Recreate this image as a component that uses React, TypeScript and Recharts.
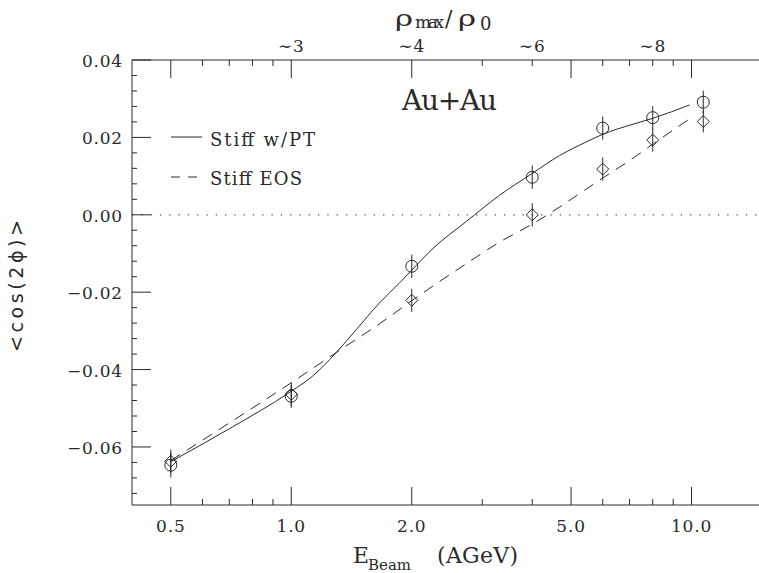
import { ComposedChart, Line, Scatter, ErrorBar, XAxis, YAxis, ReferenceLine } from 'recharts'

// beam energy ticks (AGeV), log axis
const xTicks = [0.5, 0.6, 0.7, 0.8, 0.9, 1, 2, 3, 4, 5, 6, 7, 8, 9, 10]
const xMajor = [0.5, 1, 2, 5, 10]
const xLabels = ['0.5', '1.0', '2.0', '5.0', '10.0']

// top axis: rho_max / rho_0 at given beam energies
const rhoAt = [1, 2, 4, 8]
const rhoLabels = ['∼3', '∼4', '∼6', '∼8']

const yTicks = [
  -0.072, -0.068, -0.064, -0.06, -0.056, -0.052, -0.048, -0.044, -0.04, -0.036,
  -0.032, -0.028, -0.024, -0.02, -0.016, -0.012, -0.008, -0.004, 0, 0.004,
  0.008, 0.012, 0.016, 0.02, 0.024, 0.028, 0.032, 0.036, 0.04,
]
const yMajor = [-0.06, -0.04, -0.02, 0, 0.02, 0.04]
const yLabels = ['−0.06', '−0.04', '−0.02', '0.00', '0.02', '0.04']

// Stiff w/PT curve
const wptCurve = [
  { E: 0.5, v: -0.0638 },
  { E: 0.7, v: -0.0553 },
  { E: 1.0, v: -0.0456 },
  { E: 1.13, v: -0.0417 },
  { E: 1.29, v: -0.0358 },
  { E: 1.45, v: -0.0298 },
  { E: 1.66, v: -0.0228 },
  { E: 1.86, v: -0.0177 },
  { E: 2.0, v: -0.0143 },
  { E: 2.26, v: -0.0087 },
  { E: 2.74, v: -0.0017 },
  { E: 3.31, v: 0.005 },
  { E: 4.0, v: 0.0107 },
  { E: 4.68, v: 0.0153 },
  { E: 5.45, v: 0.0188 },
  { E: 6.0, v: 0.0208 },
  { E: 7.14, v: 0.0234 },
  { E: 8.04, v: 0.025 },
  { E: 9.9, v: 0.0284 },
]

// Stiff EOS curve
const eosCurve = [
  { E: 0.5, v: -0.0635 },
  { E: 0.7, v: -0.0538 },
  { E: 1.0, v: -0.0434 },
  { E: 1.33, v: -0.0348 },
  { E: 1.66, v: -0.0282 },
  { E: 2.0, v: -0.0222 },
  { E: 2.74, v: -0.0126 },
  { E: 3.31, v: -0.0071 },
  { E: 4.0, v: -0.0024 },
  { E: 4.68, v: 0.002 },
  { E: 5.45, v: 0.0066 },
  { E: 6.0, v: 0.0095 },
  { E: 7.14, v: 0.0146 },
  { E: 8.04, v: 0.0184 },
  { E: 10.1, v: 0.0254 },
]

// data points with errors
const wptPoints = [
  { E: 0.5, v: -0.0647, err: 0.0032 },
  { E: 1.0, v: -0.0469, err: 0.003 },
  { E: 2.0, v: -0.0133, err: 0.003 },
  { E: 4.0, v: 0.0097, err: 0.003 },
  { E: 6.0, v: 0.0224, err: 0.003 },
  { E: 8.0, v: 0.0251, err: 0.003 },
  { E: 10.7, v: 0.0291, err: 0.003 },
]

const eosPoints = [
  { E: 0.5, v: -0.0637, err: 0.003 },
  { E: 1.0, v: -0.0464, err: 0.003 },
  { E: 2.0, v: -0.0221, err: 0.003 },
  { E: 4.0, v: 0.0, err: 0.003 },
  { E: 6.0, v: 0.0118, err: 0.003 },
  { E: 8.0, v: 0.0193, err: 0.003 },
  { E: 10.7, v: 0.0241, err: 0.0028 },
]

const INK = '#2a2a2a'
const SERIF = '"DejaVu Serif", serif'

const tickText = { fill: INK, fontFamily: SERIF, fontSize: 17, letterSpacing: 0.8 }

const BottomTick = (props: any) => {
  const { x, y, payload } = props
  const i = xMajor.indexOf(payload.value)
  return (
    <g>
      <line x1={x} x2={x} y1={y} y2={y - (i >= 0 ? 18 : 6)} stroke={INK} />
      {i >= 0 && (
        <text x={x} y={y + 27} textAnchor="middle" {...tickText}>
          {xLabels[i]}
        </text>
      )}
    </g>
  )
}

const TopTick = (props: any) => {
  const { x, y, payload } = props
  const major = xMajor.includes(payload.value)
  const i = rhoAt.indexOf(payload.value)
  return (
    <g>
      <line x1={x} x2={x} y1={y} y2={y + (major ? 18 : 6)} stroke={INK} />
      {i >= 0 && (
        <text x={x} y={y - 8} textAnchor="middle" {...tickText}>
          {rhoLabels[i]}
        </text>
      )}
    </g>
  )
}

const isMajorY = (v: number) => yMajor.some((m) => Math.abs(m - v) < 1e-9)

const LeftTick = (props: any) => {
  const { x, y, payload } = props
  const i = yMajor.findIndex((m) => Math.abs(m - payload.value) < 1e-9)
  return (
    <g>
      <line x1={x} x2={x + (i >= 0 ? 19 : 5)} y1={y} y2={y} stroke={INK} />
      {i >= 0 && (
        <text x={x - 9} y={y + 7} textAnchor="end" {...tickText}>
          {yLabels[i]}
        </text>
      )}
    </g>
  )
}

const RightTick = (props: any) => {
  const { x, y, payload } = props
  return <line x1={x} x2={x - (isMajorY(payload.value) ? 17 : 5)} y1={y} y2={y} stroke={INK} />
}

const CircleMark = (props: any) => {
  const { cx, cy } = props
  return <circle cx={cx} cy={cy} r={6} fill="none" stroke={INK} strokeWidth={1} />
}

const DiamondMark = (props: any) => {
  const { cx, cy } = props
  const s = 6
  return (
    <path
      d={`M${cx},${cy - s}L${cx + s},${cy}L${cx},${cy + s}L${cx - s},${cy}Z`}
      fill="none"
      stroke={INK}
      strokeWidth={1}
    />
  )
}

export default function App() {
  return (
    <div style={{ position: 'absolute', left: 0, top: 0, width: 759, height: 573, overflow: 'hidden', background: '#fff' }}>
      <ComposedChart width={762} height={573} margin={{ top: 0, right: 0, bottom: 0, left: 0 }}>
        <XAxis
          dataKey="E"
          type="number"
          scale="log"
          domain={[0.4, 15]}
          allowDataOverflow
          ticks={xTicks}
          interval={0}
          height={68}
          tickSize={0}
          tickMargin={0}
          tickLine={false}
          tick={<BottomTick />}
          axisLine={{ stroke: INK }}
        />
        <XAxis
          xAxisId="top"
          orientation="top"
          dataKey="E"
          type="number"
          scale="log"
          domain={[0.4, 15]}
          allowDataOverflow
          ticks={xTicks}
          interval={0}
          height={60}
          tickSize={0}
          tickMargin={0}
          tickLine={false}
          tick={<TopTick />}
          axisLine={{ stroke: INK }}
        />
        <YAxis
          dataKey="v"
          type="number"
          domain={[-0.075, 0.04]}
          allowDataOverflow
          ticks={yTicks}
          interval={0}
          width={132}
          tickSize={0}
          tickMargin={0}
          tickLine={false}
          tick={<LeftTick />}
          axisLine={{ stroke: INK }}
        />
        <YAxis
          yAxisId="right"
          orientation="right"
          type="number"
          domain={[-0.075, 0.04]}
          allowDataOverflow
          ticks={yTicks}
          interval={0}
          width={0}
          tickSize={0}
          tickMargin={0}
          tickLine={false}
          tick={<RightTick />}
          axisLine={{ stroke: INK }}
        />
        <ReferenceLine y={0} stroke="#555" strokeWidth={1.2} strokeDasharray="1.3 8" />
        <Line
          data={wptCurve}
          dataKey="v"
          type="monotone"
          stroke={INK}
          strokeWidth={1}
          dot={false}
          isAnimationActive={false}
        />
        <Line
          data={eosCurve}
          dataKey="v"
          type="monotone"
          stroke={INK}
          strokeWidth={1}
          strokeDasharray="11 8"
          dot={false}
          isAnimationActive={false}
        />
        <Scatter data={wptPoints} dataKey="v" shape={<CircleMark />} isAnimationActive={false}>
          <ErrorBar dataKey="err" direction="y" width={0} stroke={INK} strokeWidth={1} />
        </Scatter>
        <Scatter data={eosPoints} dataKey="v" shape={<DiamondMark />} isAnimationActive={false}>
          <ErrorBar dataKey="err" direction="y" width={0} stroke={INK} strokeWidth={1} />
        </Scatter>
      </ComposedChart>

      <svg
        width={759}
        height={573}
        style={{ position: 'absolute', left: 0, top: 0, pointerEvents: 'none' }}
      >
        {/* legend */}
        <line x1={171} x2={202} y1={137} y2={137} stroke={INK} />
        <text x={210} y={145.5} fill={INK} fontFamily={SERIF} fontSize={18} textLength={105} lengthAdjust="spacing">
          Stiff w/PT
        </text>
        <line x1={171} x2={202} y1={177} y2={177} stroke={INK} strokeDasharray="9 8" />
        <text x={210} y={184.5} fill={INK} fontFamily={SERIF} fontSize={18} textLength={92} lengthAdjust="spacing">
          Stiff EOS
        </text>
        <text x={402} y={110} fill={INK} fontFamily={SERIF} fontSize={28} textLength={95} lengthAdjust="spacing">
          Au+Au
        </text>

        {/* top axis title */}
        <text transform="translate(395,26) scale(1.4,1)" fill={INK} fontFamily={SERIF} fontSize={22}>
          ρ
        </text>
        <text x={415} y={28} fill={INK} fontFamily={SERIF} fontSize={17} textLength={29} lengthAdjust="spacing">
          max
        </text>
        <text x={445} y={26} fill={INK} fontFamily={SERIF} fontSize={22}>
          /
        </text>
        <text transform="translate(458,26) scale(1.4,1)" fill={INK} fontFamily={SERIF} fontSize={22}>
          ρ
        </text>
        <text x={480} y={30} fill={INK} fontFamily={SERIF} fontSize={18}>
          0
        </text>

        {/* x axis title */}
        <text x={353} y={563} fill={INK} fontFamily={SERIF} fontSize={22}>
          E
        </text>
        <text x={368} y={570} fill={INK} fontFamily={SERIF} fontSize={15}>
          Beam
        </text>
        <text x={437} y={563} fill={INK} fontFamily={SERIF} fontSize={22} textLength={81} lengthAdjust="spacing">
          (AGeV)
        </text>

        {/* y axis title */}
        <text
          transform="translate(23,286) rotate(-90)"
          textAnchor="middle"
          fill={INK}
          fontFamily='"DejaVu Sans", sans-serif'
          fontSize={19}
          textLength={132}
          lengthAdjust="spacing"
        >
          {'<cos(2ϕ)>'}
        </text>
      </svg>
    </div>
  )
}
